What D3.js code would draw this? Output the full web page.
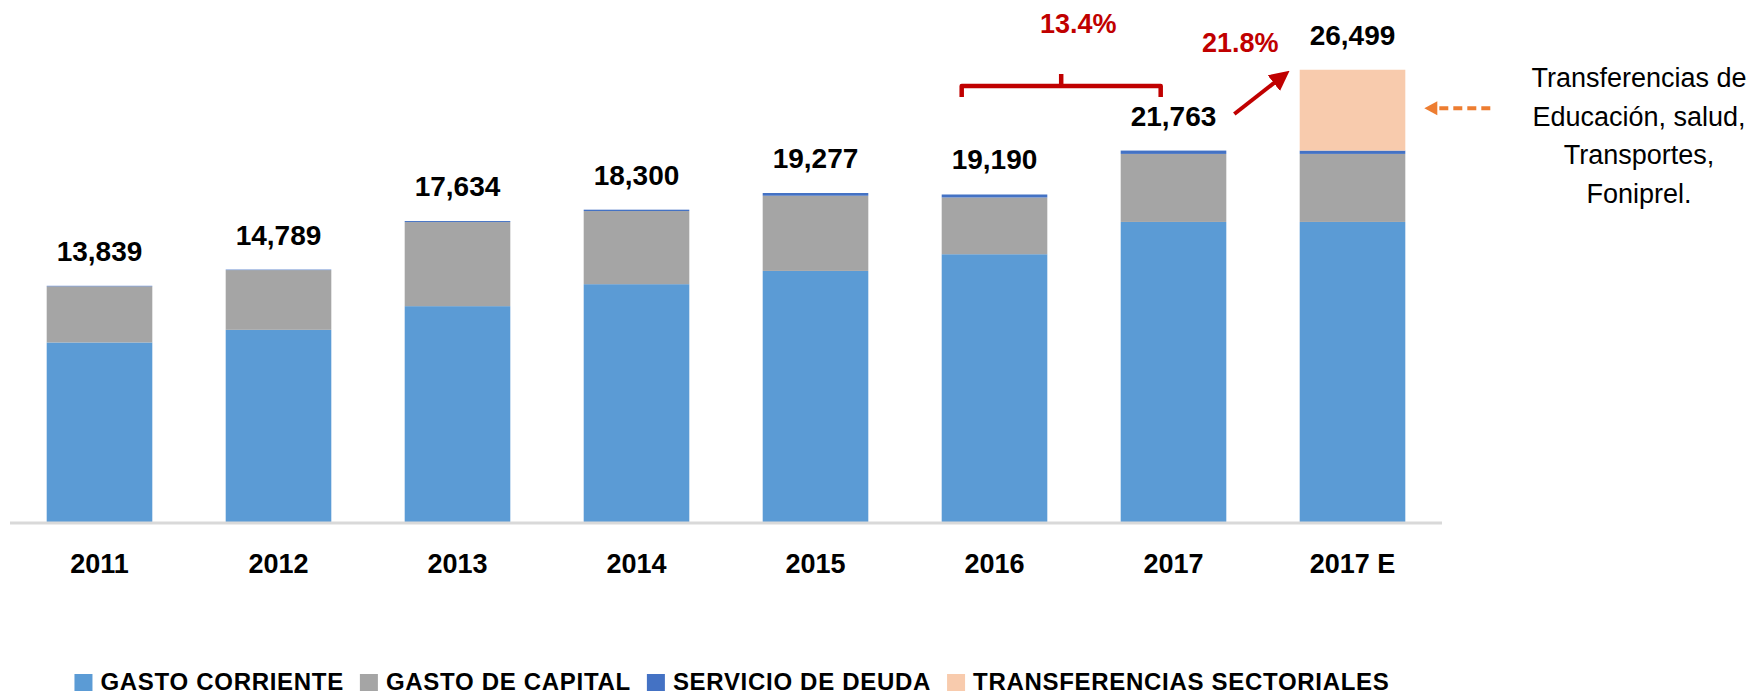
<!DOCTYPE html>
<html>
<head>
<meta charset="utf-8">
<script src="https://cdn.jsdelivr.net/npm/d3@7"></script>
<style>
  body { margin: 0; background: #fff; }
  text { font-family: "Liberation Sans", Arial, sans-serif; }
</style>
</head>
<body>
<svg id="chart" width="1764" height="697"></svg>
<script>
// Data
var years = ["2011", "2012", "2013", "2014", "2015", "2016", "2017", "2017 E"];
var gastoCorriente = [10520, 11260, 12647, 13935, 14713, 15690, 17582, 17582];
var gastoCapital = [3289, 3499, 4927, 4285, 4404, 3325, 3986, 3986];
var servicioDeuda = [30, 30, 60, 80, 160, 175, 195, 195];
var transferencias = [0, 0, 0, 0, 0, 0, 0, 4736];
var totals = [13839, 14789, 17634, 18300, 19277, 19190, 21763, 26499];

var seriesNames = ["GASTO CORRIENTE", "GASTO DE CAPITAL", "SERVICIO DE DEUDA", "TRANSFERENCIAS SECTORIALES"];
var seriesColors = ["#5b9bd5", "#a5a5a5", "#4472c4", "#f8cbad"];
var growthLabels = ["13.4%", "21.8%"];
var noteLines = ["Transferencias de", "Educación, salud,", "Transportes,", "Foniprel."];

// table for the stack
var keys = ["corriente", "capital", "deuda", "transf"];
var table = years.map(function (y, i) {
    return { year: y, corriente: gastoCorriente[i], capital: gastoCapital[i],
             deuda: servicioDeuda[i], transf: transferencias[i], total: totals[i] };
});

var svg = d3.select("#chart");

var x = d3.scaleBand()
    .domain(years)
    .range([10, 1442])
    .paddingInner(0.41)
    .paddingOuter(0.205);

var y = d3.scaleLinear()
    .domain([0, 30000])
    .range([522, 10]);

var color = d3.scaleOrdinal().domain(keys).range(seriesColors);

var stacked = d3.stack().keys(keys)(table);

// bars
svg.append("g")
    .selectAll("g")
    .data(stacked)
    .enter()
    .append("g")
    .attr("fill", function (d) { return color(d.key); })
    .selectAll("rect")
    .data(function (d) { return d; })
    .enter()
    .append("rect")
    .attr("x", function (d) { return x(d.data.year); })
    .attr("y", function (d) { return y(d[1]); })
    .attr("height", function (d) { return y(d[0]) - y(d[1]); })
    .attr("width", x.bandwidth());

// baseline
svg.append("line")
    .attr("x1", 10).attr("x2", 1442)
    .attr("y1", y(0) + 1).attr("y2", y(0) + 1)
    .style("stroke", "#d9d9d9")
    .style("stroke-width", 3);

// x axis labels
var xAxis = d3.axisBottom(x).tickSize(0).tickPadding(0);
var gx = svg.append("g")
    .attr("transform", "translate(0," + 573 + ")")
    .call(xAxis);
gx.select(".domain").remove();
gx.selectAll("text")
    .attr("dy", 0)
    .attr("y", 0)
    .style("font-family", "'Liberation Sans', Arial, sans-serif")
    .style("font-weight", "bold")
    .style("font-size", "27px")
    .style("fill", "#000");

// total labels
svg.append("g")
    .selectAll("text")
    .data(table)
    .enter()
    .append("text")
    .attr("x", function (d) { return x(d.year) + x.bandwidth() / 2; })
    .attr("y", function (d) { return y(d.total) - 25; })
    .attr("text-anchor", "middle")
    .style("font-weight", "bold")
    .style("font-size", "28px")
    .style("fill", "#000")
    .text(function (d) { return d3.format(",")(d.total); });

// 13.4% bracket
var red = "#c00000";
var bl = x("2016") + 20, br = x("2017") + 40, bm = (bl + br) / 2;
svg.append("path")
    .attr("d", "M" + bl + ",97 L" + bl + ",86 L" + br + ",86 L" + br + ",97 M" + bm + ",86 L" + bm + ",74")
    .style("fill", "none")
    .style("stroke", red)
    .style("stroke-width", 4.5)
    .style("stroke-linejoin", "round");
svg.append("text")
    .attr("x", bm + 17).attr("y", 33)
    .attr("text-anchor", "middle")
    .style("font-weight", "bold").style("font-size", "27px").style("fill", red)
    .text(growthLabels[0]);

// 21.8% arrow
svg.append("defs").append("marker")
    .attr("id", "redhead")
    .attr("viewBox", "0 0 10 10")
    .attr("refX", 5).attr("refY", 5)
    .attr("markerWidth", 5).attr("markerHeight", 5)
    .attr("orient", "auto")
    .append("path").attr("d", "M0,0 L10,5 L0,10 z").attr("fill", red);
var ax1 = x("2017") + x.bandwidth() + 8, ax2 = x("2017 E") - 18;
svg.append("line")
    .attr("x1", ax1).attr("y1", 114)
    .attr("x2", ax2).attr("y2", 77)
    .style("stroke", red).style("stroke-width", 4)
    .attr("marker-end", "url(#redhead)");
svg.append("text")
    .attr("x", ax1 + 6).attr("y", 52)
    .attr("text-anchor", "middle")
    .style("font-weight", "bold").style("font-size", "27px").style("fill", red)
    .text(growthLabels[1]);

// orange dashed arrow + note
var orange = "#ed7d31";
var last = table[table.length - 1];
var ay = (y(last.total) + y(last.total - last.transf)) / 2 - 2;
var tipX = x("2017 E") + x.bandwidth() + 19;
svg.append("line")
    .attr("x1", tipX + 66).attr("x2", tipX + 12)
    .attr("y1", ay).attr("y2", ay)
    .style("stroke", orange).style("stroke-width", 4)
    .style("stroke-dasharray", "9,5");
svg.append("path")
    .attr("d", "M" + tipX + "," + ay + " L" + (tipX + 13) + "," + (ay - 7) + " L" + (tipX + 13) + "," + (ay + 7) + " z")
    .attr("fill", orange);

svg.append("g")
    .selectAll("text")
    .data(noteLines)
    .enter()
    .append("text")
    .attr("x", 1639)
    .attr("y", function (d, i) { return 87 + i * 38.5; })
    .attr("text-anchor", "middle")
    .style("font-size", "27px")
    .style("fill", "#000")
    .text(function (d) { return d; });

// legend
var legend = svg.append("g");
var lx = 0;
seriesNames.forEach(function (name, i) {
    var g = legend.append("g").attr("transform", "translate(" + lx + ",0)");
    g.append("rect")
        .attr("x", 0).attr("y", 674)
        .attr("width", 18).attr("height", 17)
        .attr("fill", seriesColors[i]);
    var t = g.append("text")
        .attr("x", 26).attr("y", 690)
        .style("font-weight", "bold")
        .style("font-size", "24px")
        .style("letter-spacing", "0.7px")
        .style("fill", "#000")
        .text(name);
    lx += 26 + t.node().getComputedTextLength() + 16;
});
var legendW = lx - 16;
legend.attr("transform", "translate(" + (732 - legendW / 2) + ",0)");
</script>
</body>
</html>
